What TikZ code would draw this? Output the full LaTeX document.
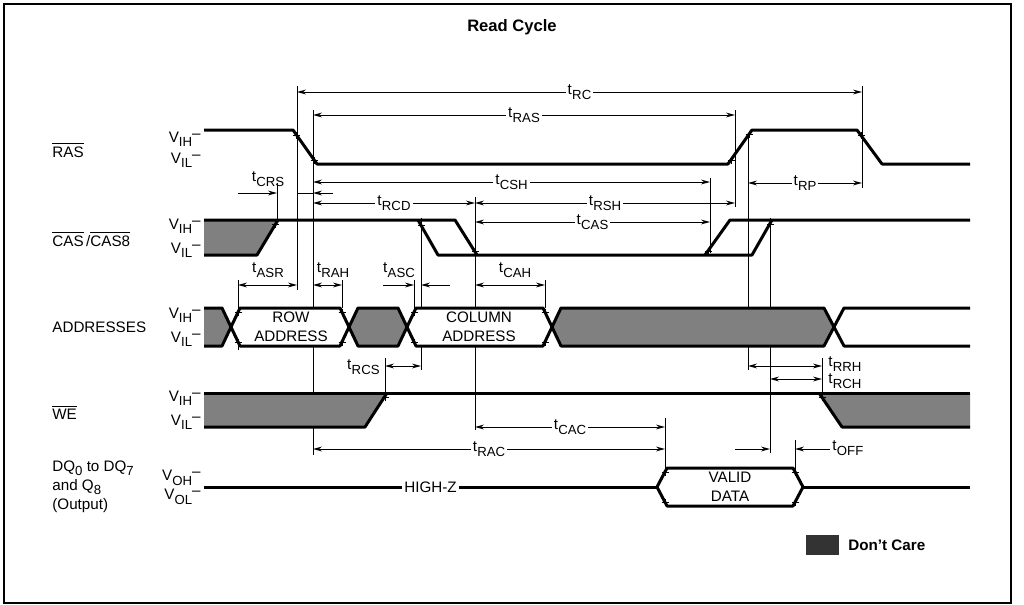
\documentclass[tikz,border=0pt]{standalone}
\usepackage{fontspec}
\setmainfont{Liberation Sans}
\usetikzlibrary{arrows.meta}

\newcommand{\tsub}[1]{t\kern.02em\raisebox{-.55ex}{\fontsize{6.6}{7}\selectfont #1}}
\newcommand{\vlev}[1]{V\raisebox{-.55ex}{\fontsize{6.6}{7}\selectfont #1}\raisebox{.5ex}{--}}
\newcommand{\ovl}[1]{$\overline{\mbox{#1}}$}

\begin{document}
\begin{tikzpicture}[x=0.5pt,y=-0.5pt,>={Stealth[length=4.5pt,width=2.4pt]},
	every node/.style={font=\fontsize{7.6}{9.5}\selectfont,inner sep=1pt},
	signal/.style={line width=1.5pt,line join=round},
	dontcare/.style={fill=black!50},
	dim/.style={line width=0.45pt,<->},
	tip/.style={line width=0.45pt,->},
	ext/.style={line width=0.45pt},
	gap/.style={fill=white},
	level/.style={anchor=east,inner sep=0pt},
	signame/.style={anchor=west,align=left,inner sep=0pt}]
	\useasboundingbox (0,0) rectangle (1024,605);
	\draw[line width=0.7pt] (4,4) rectangle (1011,603);
	\node[font=\bfseries\fontsize{8.3}{10}\selectfont] (title) at (512,27) {Read Cycle};

	% signal names and levels
	\node[signame] (ras) at (52,150) {\ovl{RAS}};
	\node[signame] (cas) at (52,239) {\ovl{CAS}\,/\ovl{CAS8}};
	\node[signame] (addr) at (52,327) {ADDRESSES};
	\node[signame] (we) at (52,412) {\ovl{WE}};
	\node[signame] (dq) at (52,487) {DQ\raisebox{-.5ex}{\fontsize{6.6}{7}\selectfont 0} to DQ\raisebox{-.5ex}{\fontsize{6.6}{7}\selectfont 7}\\and Q\raisebox{-.5ex}{\fontsize{6.6}{7}\selectfont 8}\\(Output)};
	\node[level] (rasih) at (201,139) {\vlev{IH}};
	\node[level] (rasil) at (201,160) {\vlev{IL}};
	\node[level] (casih) at (201,226) {\vlev{IH}};
	\node[level] (casil) at (201,250) {\vlev{IL}};
	\node[level] (addrih) at (201,315) {\vlev{IH}};
	\node[level] (addril) at (201,339) {\vlev{IL}};
	\node[level] (weih) at (201,398) {\vlev{IH}};
	\node[level] (weil) at (201,422) {\vlev{IL}};
	\node[level] (dqoh) at (201,478) {\vlev{OH}};
	\node[level] (dqol) at (201,497) {\vlev{OL}};

	% extension lines
	\draw[ext] (297,86) -- (297,290);
	\draw[ext] (313,110) -- (313,455);
	\draw[ext] (862,86) -- (862,188);
	\draw[ext] (735,110) -- (735,207);
	\draw[ext] (710,178) -- (710,253);
	\draw[ext] (748,136) -- (748,370);
	\draw[ext] (770,218) -- (770,453);
	\draw[ext] (277,183) -- (277,222);
	\draw[ext] (475,197) -- (475,430);
	\draw[ext] (421,218) -- (421,370);
	\draw[ext] (238,280) -- (238,350);
	\draw[ext] (342,280) -- (342,308);
	\draw[ext] (414,280) -- (414,308);
	\draw[ext] (545,280) -- (545,308);
	\draw[ext] (385,358) -- (385,395);
	\draw[ext] (822,358) -- (822,395);
	\draw[ext] (665,418) -- (665,468);
	\draw[ext] (795,440) -- (795,470);

	% RAS
	\draw[signal] (204,130) -- (293,130) -- (317,164) -- (728,164) -- (752,130) -- (857,130) -- (882,164) -- (970,164);

	% CAS
	\fill[dontcare] (204,220) -- (278,220) -- (257,255) -- (204,255) -- cycle;
	\draw[signal] (204,220) -- (455,220) -- (477,255);
	\draw[signal] (204,255) -- (257,255) -- (278,220);
	\draw[signal] (418,220) -- (438,255) -- (752,255) -- (772,220);
	\draw[signal] (705,255) -- (730,220) -- (970,220);

	% addresses
	\filldraw[signal,dontcare] (204,308) -- (222,308) -- (231,327) -- (222,346) -- (204,346);
	\filldraw[signal,fill=white] (231,327) -- (240,308) -- (340,308) -- (349,327) -- (340,346) -- (240,346) -- cycle;
	\node[align=center] (row) at (291,327) {ROW\\ADDRESS};
	\filldraw[signal,dontcare] (349,327) -- (358,308) -- (398,308) -- (407,327) -- (398,346) -- (358,346) -- cycle;
	\filldraw[signal,fill=white] (407,327) -- (416,308) -- (543,308) -- (552,327) -- (543,346) -- (416,346) -- cycle;
	\node[align=center] (col) at (479,327) {COLUMN\\ADDRESS};
	\filldraw[signal,dontcare] (552,327) -- (561,308) -- (824,308) -- (834,327) -- (824,346) -- (561,346) -- cycle;
	\draw[signal] (970,308) -- (844,308) -- (834,327) -- (844,346) -- (970,346);

	% WE
	\fill[dontcare] (204,393) -- (387,393) -- (365,427) -- (204,427) -- cycle;
	\fill[dontcare] (819,393) -- (970,393) -- (970,427) -- (842,427) -- cycle;
	\draw[signal] (204,393) -- (970,393);
	\draw[signal] (204,427) -- (365,427) -- (387,393);
	\draw[signal] (819,393) -- (842,427) -- (970,427);

	% DQ outputs
	\draw[signal] (204,487) -- node[gap] (highz) {HIGH-Z} (657,487);
	\draw[signal] (803,487) -- (970,487);
	\draw[signal] (657,487) -- (667,468) -- (793,468) -- (803,487) -- (793,506) -- (667,506) -- cycle;
	\node[align=center] (valid) at (730,487) {VALID\\DATA};

	% measuring points
	\foreach \x/\y in {296/135, 314/160, 731/160, 749/134, 861/135, 275/224, 421/225,
			475/251, 708/251, 770/224, 238/312, 238/342, 342/312, 342/342, 414/312,
			414/342, 545/312, 545/342, 385/397, 822/397, 665/472, 665/502, 795/472, 795/502}
		\draw[ext] (\x-3.5,\y) -- (\x+3.5,\y) (\x,\y-3.5) -- (\x,\y+3.5);

	% timing parameters
	\draw[dim] (297,92) -- node[gap] (trc) {\tsub{RC}} (862,92);
	\draw[dim] (313,115) -- node[gap] (tras) {\tsub{RAS}} (735,115);
	\draw[dim] (313,182) -- node[gap] (tcsh) {\tsub{CSH}} (710,182);
	\draw[dim] (748,183) -- node[gap] (trp) {\tsub{RP}} (862,183);
	\node (tcrs) at (268,179) {\tsub{CRS}};
	\draw[tip] (238,193) -- (277,193);
	\draw[tip] (333,193) -- (313,193);
	\draw[ext] (313,193) -- (297,193);
	\draw[dim] (313,203) -- node[gap] (trcd) {\tsub{RCD}} (475,203);
	\draw[dim] (475,203) -- node[gap] (trsh) {\tsub{RSH}} (735,203);
	\draw[dim] (475,222) -- node[gap] (tcas) {\tsub{CAS}} (710,222);
	\draw[dim] (238,285) -- (297,285);
	\node (tasr) at (268,270) {\tsub{ASR}};
	\draw[dim] (313,285) -- (342,285);
	\node (trah) at (333,270) {\tsub{RAH}};
	\draw[tip] (383,285) -- (414,285);
	\draw[tip] (450,285) -- (421,285);
	\node (tasc) at (399,270) {\tsub{ASC}};
	\draw[dim] (475,285) -- (545,285);
	\node (tcah) at (515,270) {\tsub{CAH}};
	\draw[dim] (385,366) -- (421,366);
	\node[anchor=east] (trcs) at (382,367) {\tsub{RCS}};
	\draw[dim] (748,366) -- (822,366);
	\node[anchor=west] (trrh) at (826,364) {\tsub{RRH}};
	\draw[dim] (770,379) -- (822,379);
	\node[anchor=west] (trch) at (826,381) {\tsub{RCH}};
	\draw[dim] (475,427) -- node[gap] (tcac) {\tsub{CAC}} (665,427);
	\draw[dim] (313,449) -- node[gap] (trac) {\tsub{RAC}} (665,449);
	\draw[tip] (735,449) -- (770,449);
	\draw[tip] (830,449) -- (795,449);
	\node[anchor=west] (toff) at (830,448) {\tsub{OFF}};

	% legend
	\fill[black!80] (806,535) rectangle (839,555);
	\node[anchor=west,font=\bfseries\fontsize{7.6}{9}\selectfont] (legend) at (846,545) {Don't Care};
\end{tikzpicture}
\end{document}
